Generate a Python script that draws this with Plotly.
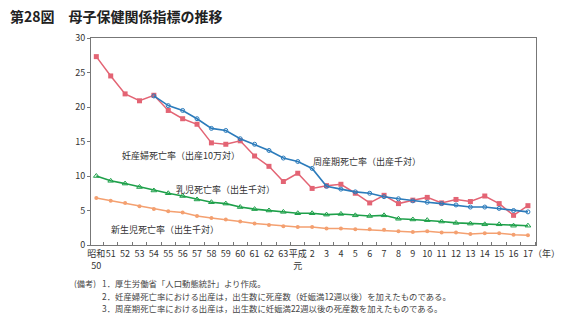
import plotly.graph_objects as go

# categories (years)
years = ["昭和<br>50", "51", "52", "53", "54", "55", "56", "57", "58", "59", "60", "61", "62", "63",
         "平成<br>元", "2", "3", "4", "5", "6", "7", "8", "9", "10", "11", "12", "13", "14", "15", "16", "17"]

# 妊産婦死亡率（出産10万対）
maternal = [27.3, 24.5, 21.9, 20.9, 21.7, 19.5, 18.3, 17.5, 14.8, 14.6, 15.1, 12.9, 11.4, 9.2,
            10.4, 8.2, 8.6, 8.8, 7.5, 6.1, 7.2, 6.0, 6.5, 6.9, 6.1, 6.6, 6.3, 7.1, 6.0, 4.3, 5.7]
# 周産期死亡率（出産千対）, from 昭和54
perinatal = [None, None, None, None, 21.6, 20.2, 19.5, 18.3, 16.9, 16.6, 15.4, 14.6, 13.7, 12.6,
             12.1, 11.1, 8.5, 8.1, 7.7, 7.5, 7.0, 6.7, 6.4, 6.2, 6.0, 5.8, 5.5, 5.5, 5.3, 5.0, 4.8]
# 乳児死亡率（出生千対）
infant = [10.0, 9.3, 8.9, 8.4, 7.9, 7.5, 7.1, 6.6, 6.2, 6.0, 5.5, 5.2, 5.0, 4.8,
          4.6, 4.6, 4.4, 4.5, 4.3, 4.2, 4.3, 3.8, 3.7, 3.6, 3.4, 3.2, 3.1, 3.0, 3.0, 2.8, 2.8]
# 新生児死亡率（出生千対）
neonatal = [6.8, 6.4, 6.1, 5.6, 5.2, 4.9, 4.7, 4.2, 3.9, 3.7, 3.4, 3.1, 2.9, 2.7,
            2.6, 2.6, 2.4, 2.4, 2.3, 2.3, 2.2, 2.0, 1.9, 2.0, 1.8, 1.8, 1.6, 1.7, 1.7, 1.5, 1.4]

xs = list(range(len(years)))
FONT = "Noto Sans CJK JP"

fig = go.Figure()
fig.add_trace(go.Scatter(x=xs, y=neonatal, mode="lines+markers",
                         line=dict(color="#f4a070", width=1.5),
                         marker=dict(symbol="circle", size=4, color="#f4a070")))
fig.add_trace(go.Scatter(x=xs, y=infant, mode="lines+markers",
                         line=dict(color="#1ea04a", width=1.6),
                         marker=dict(symbol="triangle-up-open", size=5, color="#1ea04a", line=dict(width=1))))
fig.add_trace(go.Scatter(x=xs, y=maternal, mode="lines+markers",
                         line=dict(color="#e36474", width=1.5),
                         marker=dict(symbol="square", size=5, color="#e36474")))
fig.add_trace(go.Scatter(x=xs, y=perinatal, mode="lines+markers", connectgaps=False,
                         line=dict(color="#2b7bbb", width=1.6),
                         marker=dict(symbol="circle-open", size=4, color="#2b7bbb", line=dict(width=1))))

fig.update_layout(
    width=565, height=322,
    margin=dict(l=91, r=29, t=38, b=77),
    paper_bgcolor="white", plot_bgcolor="white",
    showlegend=False,
    font=dict(family=FONT, size=9, color="#333333"),
)
fig.update_xaxes(
    range=[-0.37, 30.56],
    tickmode="array", tickvals=xs, ticktext=years, tickangle=0,
    ticks="", showgrid=False, zeroline=False,
    showline=True, linecolor="#777777", linewidth=1, mirror=True,
    tickfont=dict(family=FONT, size=9, color="#333333"),
    minor=dict(ticks="inside", tick0=0.5, dtick=1, ticklen=3, tickcolor="#777777", showgrid=False),
)
fig.update_yaxes(
    range=[0, 30], dtick=5, ticks="outside", ticklen=3, tickcolor="#777777",
    showgrid=False, zeroline=False,
    showline=True, linecolor="#777777", linewidth=1, mirror=True,
    tickfont=dict(family=FONT, size=9, color="#333333"),
)

def ann(text, x, y, size=9, color="#333333", xanchor="center", xref="x", yref="y"):
    fig.add_annotation(text=text, x=x, y=y, xref=xref, yref=yref, showarrow=False,
                       xanchor=xanchor, yanchor="middle",
                       font=dict(family=FONT, size=size, color=color))

ann("妊産婦死亡率（出産10万対）", 5.9, 12.9)
ann("周産期死亡率（出産千対）", 18.8, 12.1)
ann("乳児死亡率（出生千対）", 9.0, 8.0)
ann("新生児死亡率（出生千対）", 4.8, 2.3)

# pixel helpers for paper refs
def px(x):
    return (x - 91) / (565 - 91 - 29)
def py(y):
    return (245 - y) / (245 - 38)

ann("<b>第28図　母子保健関係指標の推移</b>", px(8), py(16), size=14, color="#222222",
    xanchor="left", xref="paper", yref="paper")
ann("（年）", px(562), py(253), size=9, xanchor="right", xref="paper", yref="paper")

note_color = "#444444"
ann("(備考)", px(72), py(283), size=8.2, color=note_color, xanchor="left", xref="paper", yref="paper")
ann("1．厚生労働省「人口動態統計」より作成。", px(100), py(283), size=8.4, color=note_color,
    xanchor="left", xref="paper", yref="paper")
ann("2．妊産婦死亡率における出産は，出生数に死産数（妊娠満12週以後）を加えたものである。", px(100), py(296),
    size=8.4, color=note_color, xanchor="left", xref="paper", yref="paper")
ann("3．周産期死亡率における出産は，出生数に妊娠満22週以後の死産数を加えたものである。", px(100), py(308),
    size=8.4, color=note_color, xanchor="left", xref="paper", yref="paper")

fig.write_html("out.html")
